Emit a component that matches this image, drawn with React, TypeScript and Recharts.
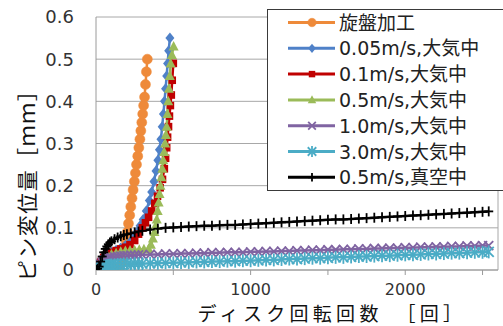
import React from 'react';
import { LineChart, Line, XAxis, YAxis, CartesianGrid, Legend, Label, ReferenceLine } from 'recharts';

// ---- data ----
const seriesNames = ['旋盤加工', '0.05m/s,大気中', '0.1m/s,大気中', '0.5m/s,大気中', '1.0m/s,大気中', '3.0m/s,大気中', '0.5m/s,真空中'];

const xTicks = [0, 500, 1000, 1500, 2000, 2500];
const yTicks = [0, 0.1, 0.2, 0.3, 0.4, 0.5, 0.6];

const latheRev = [0, 30, 60, 90, 120, 150, 170, 185, 195, 203, 210, 218, 225, 233, 240, 248, 255, 262, 270, 277, 284, 290, 296, 302, 308, 314, 320, 326, 332];
const latheDisp = [0, 0, 0, 0, 0, 0.005, 0.02, 0.045, 0.07, 0.09, 0.11, 0.13, 0.15, 0.17, 0.19, 0.21, 0.23, 0.25, 0.27, 0.29, 0.31, 0.33, 0.35, 0.37, 0.39, 0.41, 0.44, 0.47, 0.5];

const air005Rev = [0, 15, 30, 50, 75, 100, 130, 160, 190, 220, 245, 265, 285, 305, 325, 345, 360, 375, 388, 400, 410, 420, 428, 436, 443, 450, 457, 463, 470, 478];
const air005Disp = [0.01, 0.012, 0.02, 0.03, 0.037, 0.042, 0.047, 0.052, 0.058, 0.066, 0.078, 0.09, 0.105, 0.12, 0.14, 0.165, 0.185, 0.21, 0.235, 0.26, 0.285, 0.31, 0.34, 0.37, 0.4, 0.43, 0.46, 0.49, 0.52, 0.55];

const air01Rev = [0, 15, 30, 50, 75, 100, 130, 160, 190, 220, 250, 275, 300, 320, 340, 360, 380, 398, 415, 430, 442, 450, 457, 463, 469, 475, 481, 487, 493, 500];
const air01Disp = [0.01, 0.012, 0.02, 0.03, 0.037, 0.042, 0.046, 0.05, 0.054, 0.06, 0.07, 0.085, 0.1, 0.112, 0.125, 0.14, 0.158, 0.175, 0.195, 0.215, 0.24, 0.265, 0.29, 0.315, 0.34, 0.365, 0.39, 0.415, 0.45, 0.49];

const air05Rev = [0, 15, 30, 50, 75, 100, 130, 160, 190, 220, 250, 280, 310, 340, 355, 368, 378, 386, 393, 399, 405, 411, 417, 423, 429, 435, 441, 447, 452, 457, 462, 467, 472, 477, 483, 491, 502];
const air05Disp = [0, 0.005, 0.015, 0.025, 0.032, 0.037, 0.04, 0.043, 0.045, 0.046, 0.047, 0.048, 0.049, 0.05, 0.06, 0.075, 0.09, 0.105, 0.12, 0.14, 0.16, 0.18, 0.2, 0.22, 0.24, 0.26, 0.28, 0.3, 0.32, 0.34, 0.37, 0.4, 0.43, 0.46, 0.49, 0.51, 0.53];

const slowRev = [
  0, 10, 20, 30, 40, 50, 60, 70, 80, 90, 100,
  120, 140, 160, 180, 200,
  225, 250, 275, 300,
  350, 400, 450, 500, 550, 600, 650, 700, 750, 800,
  850, 900, 950, 1000, 1050, 1100, 1150, 1200, 1250, 1300,
  1350, 1400, 1450, 1500, 1550, 1600, 1650, 1700, 1750, 1800,
  1850, 1900, 1950, 2000, 2050, 2100, 2150, 2200, 2250, 2300,
  2350, 2400, 2450, 2500,
  2540,
];
const air10Disp = [
  0, 0.004, 0.009, 0.014, 0.018, 0.022, 0.025, 0.027, 0.028, 0.029, 0.03,
  0.031, 0.032, 0.033, 0.034, 0.034,
  0.035, 0.035, 0.036, 0.036,
  0.037, 0.037, 0.038, 0.038, 0.039, 0.039, 0.04, 0.04, 0.041, 0.041,
  0.042, 0.042, 0.042, 0.043, 0.043, 0.044, 0.044, 0.045, 0.045, 0.046,
  0.046, 0.047, 0.047, 0.048, 0.048, 0.049, 0.049, 0.05, 0.05, 0.051,
  0.051, 0.052, 0.052, 0.053, 0.053, 0.054, 0.054, 0.055, 0.055, 0.056,
  0.056, 0.057, 0.057, 0.058,
  0.058,
];
const air30Disp = [
  0, 0.001, 0.003, 0.005, 0.007, 0.008, 0.009, 0.01, 0.011, 0.011, 0.012,
  0.012, 0.013, 0.013, 0.014, 0.014,
  0.014, 0.015, 0.015, 0.015,
  0.016, 0.016, 0.017, 0.017, 0.018, 0.018, 0.019, 0.019, 0.02, 0.02,
  0.021, 0.021, 0.022, 0.022, 0.023, 0.024, 0.024, 0.025, 0.026, 0.026,
  0.027, 0.028, 0.028, 0.029, 0.03, 0.03, 0.031, 0.032, 0.032, 0.033,
  0.034, 0.034, 0.035, 0.036, 0.036, 0.037, 0.038, 0.038, 0.039, 0.04,
  0.04, 0.041, 0.042, 0.042,
  0.043,
];
const vac05Disp = [
  0, 0.003, 0.008, 0.02, 0.032, 0.042, 0.05, 0.056, 0.061, 0.065, 0.068,
  0.073, 0.077, 0.08, 0.083, 0.085,
  0.087, 0.089, 0.091, 0.093,
  0.096, 0.098, 0.1, 0.101, 0.102, 0.103, 0.104, 0.105, 0.105, 0.106,
  0.107, 0.107, 0.108, 0.109, 0.11, 0.111, 0.112, 0.113, 0.114, 0.115,
  0.116, 0.117, 0.118, 0.119, 0.12, 0.12, 0.121, 0.122, 0.123, 0.124,
  0.125, 0.126, 0.127, 0.128, 0.129, 0.13, 0.131, 0.132, 0.133, 0.134,
  0.135, 0.136, 0.137, 0.138,
  0.139,
];

// ---- build ----
const zip = (xs: number[], ys: number[]) => xs.map((x, i) => ({ x, y: ys[i] }));

type Shape = 'circle' | 'diamond' | 'square' | 'triangle' | 'cross' | 'star' | 'plus';

const series: { name: string; color: string; shape: Shape; data: { x: number; y: number }[] }[] = [
  { name: seriesNames[0], color: '#EE8A3A', shape: 'circle', data: zip(latheRev, latheDisp) },
  { name: seriesNames[1], color: '#4F81C8', shape: 'diamond', data: zip(air005Rev, air005Disp) },
  { name: seriesNames[2], color: '#C00000', shape: 'square', data: zip(air01Rev, air01Disp) },
  { name: seriesNames[3], color: '#9BBB59', shape: 'triangle', data: zip(air05Rev, air05Disp) },
  { name: seriesNames[4], color: '#8064A2', shape: 'cross', data: zip(slowRev, air10Disp) },
  { name: seriesNames[5], color: '#4BACC6', shape: 'star', data: zip(slowRev, air30Disp) },
  { name: seriesNames[6], color: '#000000', shape: 'plus', data: zip(slowRev, vac05Disp) },
];

const Marker = ({ shape, color, cx, cy, legend }: { shape: Shape; color: string; cx: number; cy: number; legend?: boolean }) => {
  const k = legend ? 0.85 : 1;
  switch (shape) {
    case 'circle':
      return <circle cx={cx} cy={cy} r={5 * k} fill={color} stroke={color} strokeWidth={0.5} />;
    case 'diamond':
      return <polygon points={`${cx},${cy - 5.5 * k} ${cx + 4.5 * k},${cy} ${cx},${cy + 5.5 * k} ${cx - 4.5 * k},${cy}`} fill={color} />;
    case 'square':
      return <rect x={cx - 3.8 * k} y={cy - 3.8 * k} width={7.6 * k} height={7.6 * k} fill={color} />;
    case 'triangle':
      return <polygon points={`${cx},${cy - 5.5 * k} ${cx + 5 * k},${cy + 4 * k} ${cx - 5 * k},${cy + 4 * k}`} fill={color} />;
    case 'cross':
      return (
        <g stroke={color} strokeWidth={1.8}>
          <line x1={cx - 4.5 * k} y1={cy - 4.5 * k} x2={cx + 4.5 * k} y2={cy + 4.5 * k} />
          <line x1={cx - 4.5 * k} y1={cy + 4.5 * k} x2={cx + 4.5 * k} y2={cy - 4.5 * k} />
        </g>
      );
    case 'star':
      return (
        <g stroke={color} strokeWidth={1.8}>
          <line x1={cx - 5 * k} y1={cy - 5 * k} x2={cx + 5 * k} y2={cy + 5 * k} />
          <line x1={cx - 5 * k} y1={cy + 5 * k} x2={cx + 5 * k} y2={cy - 5 * k} />
          <line x1={cx} y1={cy - 6.5 * k} x2={cx} y2={cy + 6.5 * k} />
        </g>
      );
    case 'plus':
    default:
      return (
        <g stroke={color} strokeWidth={1.8}>
          <line x1={cx - 4.5 * k} y1={cy} x2={cx + 4.5 * k} y2={cy} />
          <line x1={cx} y1={cy - 5 * k} x2={cx} y2={cy + 5 * k} />
        </g>
      );
  }
};

const makeDot = (shape: Shape, color: string, name: string) => (props: any) => {
  const { cx, cy, index } = props;
  if (cx == null || cy == null) return <g key={`${name}-${index}`} />;
  return (
    <g key={`${name}-${index}`}>
      <Marker shape={shape} color={color} cx={cx} cy={cy} />
    </g>
  );
};

const FONT = '"DejaVu Sans", "Noto Sans CJK JP", sans-serif';
const CJK = '"Noto Sans CJK JP", sans-serif';

const LegendBox = () => (
  <svg width={240} height={182} style={{ display: 'block' }}>
    <rect x={0.5} y={0.5} width={239} height={181} fill="#ffffff" stroke="#3a3a3a" strokeWidth={1} />
    {series.map((s, i) => {
      const y = 13.5 + i * 25.8;
      return (
        <g key={s.name}>
          <line x1={21} x2={68} y1={y} y2={y} stroke={s.color} strokeWidth={3} />
          <Marker shape={s.shape} color={s.color} cx={45} cy={y} legend />
          <text x={72} y={y} dominantBaseline="central" fontSize={19} fontFamily={FONT} fill="#222">
            {s.name}
          </text>
        </g>
      );
    })}
  </svg>
);

export default function App() {
  return (
    <div style={{ position: 'absolute', left: 0, top: 0, width: 503, height: 326, overflow: 'hidden', background: '#fff' }}>
      <LineChart width={503} height={326} margin={{ top: 17, right: 5, left: 0, bottom: 0 }}>
        <CartesianGrid vertical={false} stroke="#a8a8a8" strokeWidth={1} />
        <XAxis
          type="number"
          dataKey="x"
          domain={[0, 2600]}
          ticks={xTicks}
          tickFormatter={(v: number) => (v % 1000 === 0 ? String(v) : '')}
          allowDataOverflow
          height={56}
          tickSize={5}
          tickMargin={9}
          stroke="#9a9a9a"
          tick={{ fontSize: 16, fill: '#333', fontFamily: FONT }}
        >
          <Label
            content={() => (
              <text x={332} y={312} textAnchor="middle" dominantBaseline="central" fontSize={19} letterSpacing={4.3} fontFamily={CJK} fill="#111">
                ディスク回転回数　［回］
              </text>
            )}
          />
        </XAxis>
        <YAxis
          type="number"
          domain={[0, 0.6]}
          ticks={yTicks}
          width={96}
          tickSize={0}
          tickMargin={22}
          stroke="#9a9a9a"
          allowDataOverflow
          tick={{ fontSize: 18, fill: '#333', fontFamily: FONT }}
        >
          <Label
            content={() => (
              <text x={26} y={180} transform="rotate(-90 26 180)" textAnchor="middle" dominantBaseline="central" fontSize={21} letterSpacing={1.5} fontFamily={CJK} fill="#111">
                ピン変位量［ｍｍ］
              </text>
            )}
          />
        </YAxis>
        <ReferenceLine x={2600} stroke="#a8a8a8" ifOverflow="visible" />
        {series.map((s) => (
          <Line
            key={s.name}
            data={s.data}
            dataKey="y"
            name={s.name}
            type="linear"
            stroke={s.color}
            strokeWidth={2.5}
            dot={makeDot(s.shape, s.color, s.name)}
            activeDot={false}
            isAnimationActive={false}
          />
        ))}
        <Legend
          layout="vertical"
          align="center"
          verticalAlign="middle"
          content={() => <LegendBox />}
          wrapperStyle={{ left: 267, top: 9, width: 240, height: 182, position: 'absolute' }}
        />
      </LineChart>
    </div>
  );
}
